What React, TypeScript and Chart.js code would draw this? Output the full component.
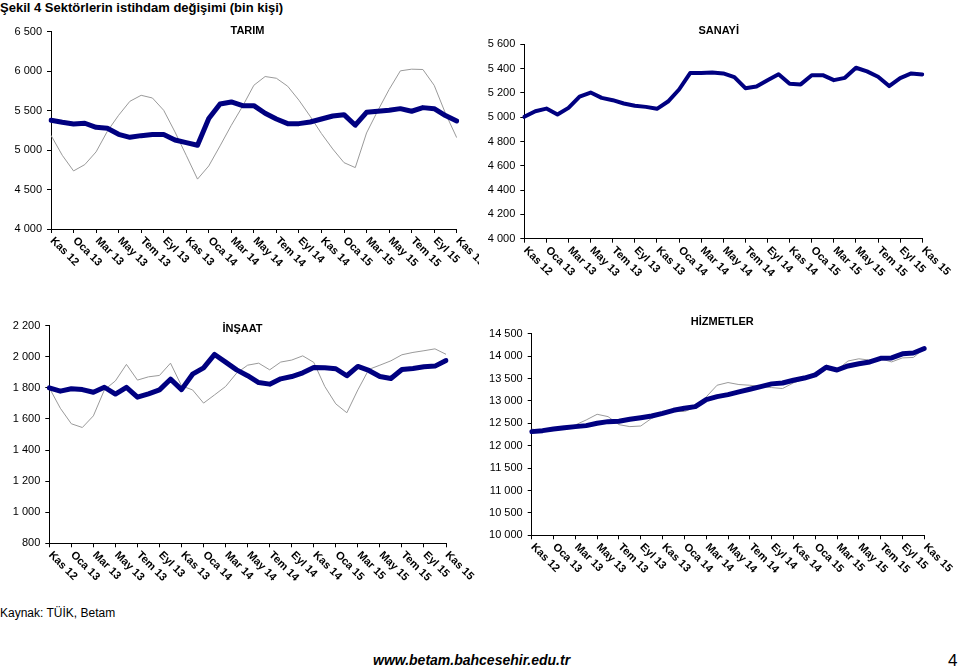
import React, { useEffect, useRef } from 'react';
import { Chart, registerables } from 'chart.js';

Chart.register(...registerables);

const months = ['Kas 12', 'Ara 12', 'Oca 13', 'Şub 13', 'Mar 13', 'Nis 13', 'May 13', 'Haz 13', 'Tem 13', 'Ağu 13', 'Eyl 13', 'Eki 13', 'Kas 13', 'Ara 13', 'Oca 14', 'Şub 14', 'Mar 14', 'Nis 14', 'May 14', 'Haz 14', 'Tem 14', 'Ağu 14', 'Eyl 14', 'Eki 14', 'Kas 14', 'Ara 14', 'Oca 15', 'Şub 15', 'Mar 15', 'Nis 15', 'May 15', 'Haz 15', 'Tem 15', 'Ağu 15', 'Eyl 15', 'Eki 15', 'Kas 15'];

const tarimSA = [5378, 5352, 5331, 5340, 5289, 5276, 5200, 5162, 5183, 5196, 5196, 5128, 5095, 5061, 5399, 5584, 5610, 5563, 5563, 5466, 5394, 5335, 5335, 5356, 5394, 5432, 5449, 5315, 5479, 5492, 5504, 5525, 5492, 5538, 5525, 5437, 5369];
const tarimRaw = [5187, 4934, 4736, 4816, 4977, 5238, 5441, 5618, 5694, 5660, 5504, 5230, 4934, 4632, 4799, 5053, 5314, 5555, 5821, 5932, 5910, 5809, 5632, 5428, 5209, 5014, 4841, 4778, 5217, 5500, 5767, 6004, 6025, 6021, 5821, 5466, 5158];

const sanayiSA = [5003, 5049, 5071, 5022, 5077, 5170, 5203, 5159, 5140, 5113, 5094, 5085, 5069, 5129, 5228, 5363, 5363, 5368, 5360, 5330, 5239, 5253, 5305, 5354, 5275, 5270, 5346, 5346, 5305, 5324, 5407, 5377, 5333, 5256, 5322, 5360, 5352];

const insaatSA = [1800, 1779, 1794, 1789, 1772, 1804, 1760, 1803, 1740, 1762, 1787, 1856, 1789, 1888, 1929, 2015, 1966, 1916, 1878, 1834, 1824, 1858, 1873, 1897, 1931, 1929, 1923, 1878, 1938, 1912, 1873, 1860, 1918, 1925, 1936, 1940, 1976];
const insaatRaw = [1800, 1669, 1569, 1545, 1620, 1787, 1845, 1951, 1850, 1871, 1880, 1959, 1813, 1787, 1702, 1755, 1809, 1895, 1946, 1959, 1916, 1966, 1979, 2006, 1964, 1809, 1697, 1640, 1787, 1919, 1946, 1974, 2013, 2028, 2039, 2051, 2016];

const hizmetSA = [12314, 12336, 12373, 12403, 12426, 12448, 12500, 12537, 12545, 12590, 12626, 12664, 12723, 12790, 12835, 12872, 13030, 13095, 13140, 13200, 13260, 13320, 13380, 13400, 13460, 13510, 13580, 13750, 13690, 13780, 13830, 13870, 13950, 13960, 14050, 14070, 14170];
const hizmetRaw = [12373, 12330, 12351, 12366, 12463, 12575, 12701, 12649, 12470, 12426, 12440, 12612, 12723, 12776, 12761, 12858, 13089, 13350, 13410, 13365, 13350, 13320, 13298, 13276, 13402, 13484, 13580, 13800, 13690, 13890, 13940, 13910, 13940, 13870, 13960, 13970, 14170];

const NAVY = '#000080';
const GRAY = '#9a9a9a';
const FONT = 'Arial, "Liberation Sans", sans-serif';

const fmt = (v: number) => String(v).replace(/\B(?=(\d{3})+(?!\d))/g, ' ');

type Box = { left: number; top: number; width: number; height: number };
type Area = { left: number; top: number; right: number; bottom: number };

interface PanelProps {
  box: Box;
  area: Area;
  yMin: number;
  yMax: number;
  step: number;
  sa: number[];
  raw?: number[];
  saWidth: number;
}

const xLabelPlugin = {
  id: 'xLabels',
  afterDraw(chart: any) {
    const xs = chart.scales.x;
    const ctx = chart.ctx;
    const bottom = chart.chartArea.bottom;
    ctx.save();
    ctx.font = `bold 11px ${FONT}`;
    ctx.fillStyle = '#000';
    ctx.textAlign = 'left';
    ctx.textBaseline = 'middle';
    months.forEach((m, i) => {
      if (i % 2 !== 0) return;
      const x = xs.getPixelForValue(i);
      ctx.save();
      ctx.translate(x + 1, bottom + 10);
      ctx.rotate(Math.PI / 4);
      ctx.fillText(m, 0, 0);
      ctx.restore();
    });
    ctx.restore();
  },
};

function Panel({ box, area, yMin, yMax, step, sa, raw, saWidth }: PanelProps) {
  const ref = useRef<HTMLCanvasElement>(null);
  useEffect(() => {
    if (!ref.current) return;
    const datasets: any[] = [
      {
        data: sa,
        borderColor: NAVY,
        borderWidth: saWidth,
        pointRadius: 0,
        tension: 0,
        borderJoinStyle: 'round',
        borderCapStyle: 'round',
        fill: false,
      },
    ];
    if (raw) {
      datasets.push({
        data: raw,
        borderColor: GRAY,
        borderWidth: 1,
        pointRadius: 0,
        tension: 0,
        fill: false,
      });
    }
    const chart = new Chart(ref.current, {
      type: 'line',
      data: { labels: months, datasets },
      options: {
        responsive: false,
        animation: false,
        devicePixelRatio: 1,
        layout: {
          padding: { left: 0, top: area.top, right: box.width - area.right, bottom: 0 },
        },
        plugins: { legend: { display: false }, tooltip: { enabled: false }, title: { display: false } },
        scales: {
          x: {
            type: 'category',
            offset: false,
            ticks: { display: false, autoSkip: false },
            grid: {
              drawOnChartArea: false,
              drawTicks: true,
              tickLength: 4,
              color: (c: any) => (c.index % 2 === 0 ? '#000' : 'rgba(0,0,0,0)'),
            },
            border: { display: true, color: '#000', width: 1 },
            afterFit: (s: any) => {
              s.height = box.height - area.bottom;
            },
          },
          y: {
            min: yMin,
            max: yMax,
            ticks: {
              stepSize: step,
              callback: (v: any) => fmt(Number(v)),
              font: { family: FONT, size: 11 },
              color: '#000',
              padding: 5,
            },
            grid: { drawOnChartArea: false, drawTicks: true, tickLength: 4, color: '#000' },
            border: { display: true, color: '#000', width: 1 },
            afterFit: (s: any) => {
              s.width = area.left;
            },
          },
        },
      },
      plugins: [xLabelPlugin],
    });
    return () => chart.destroy();
  }, []);
  return (
    <canvas
      ref={ref}
      width={box.width}
      height={box.height}
      style={{ position: 'absolute', left: box.left, top: box.top, width: box.width, height: box.height, display: 'block' }}
    />
  );
}

const titleStyle = (cx: number, cy: number): React.CSSProperties => ({
  position: 'absolute',
  left: cx - 60,
  width: 120,
  top: cy - 7,
  lineHeight: '14px',
  textAlign: 'center',
  font: `bold 11px ${FONT}`,
  color: '#000',
  whiteSpace: 'nowrap',
});

export default function App() {
  return (
    <div style={{ position: 'absolute', left: 0, top: 0, width: 959, height: 668, background: '#fff', overflow: 'hidden' }}>
      <div style={{ position: 'absolute', left: 0, top: 0, lineHeight: '14px', font: `bold 13px ${FONT}`, color: '#000', whiteSpace: 'nowrap' }}>
        Şekil 4 Sektörlerin istihdam değişimi (bin kişi)
      </div>
      <Panel
        box={{ left: 0, top: 20, width: 479, height: 280 }}
        area={{ left: 51, top: 11.7, right: 456.7, bottom: 209 }}
        yMin={4000}
        yMax={6500}
        step={500}
        sa={tarimSA}
        raw={tarimRaw}
        saWidth={5}
      />
      <Panel
        box={{ left: 480, top: 20, width: 479, height: 280 }}
        area={{ left: 44.3, top: 24.3, right: 442.3, bottom: 218.7 }}
        yMin={4000}
        yMax={5600}
        step={200}
        sa={sanayiSA}
        saWidth={4}
      />
      <Panel
        box={{ left: 0, top: 310, width: 479, height: 290 }}
        area={{ left: 49.3, top: 15.7, right: 446, bottom: 233.3 }}
        yMin={800}
        yMax={2200}
        step={200}
        sa={insaatSA}
        raw={insaatRaw}
        saWidth={5}
      />
      <Panel
        box={{ left: 480, top: 310, width: 479, height: 290 }}
        area={{ left: 51.7, top: 23.7, right: 444.3, bottom: 225.3 }}
        yMin={10000}
        yMax={14500}
        step={500}
        sa={hizmetSA}
        raw={hizmetRaw}
        saWidth={5}
      />
      <div style={titleStyle(247.5, 30.5)}>TARIM</div>
      <div style={titleStyle(718.7, 30.5)}>SANAYİ</div>
      <div style={titleStyle(242.5, 329)}>İNŞAAT</div>
      <div style={titleStyle(722.3, 322)}>HİZMETLER</div>
      <div style={{ position: 'absolute', left: 0, top: 606, lineHeight: '14px', font: `12px ${FONT}`, color: '#000', whiteSpace: 'nowrap' }}>
        Kaynak: TÜİK, Betam
      </div>
      <div style={{ position: 'absolute', left: 373, top: 652, lineHeight: '16px', font: `italic bold 14px ${FONT}`, color: '#000', whiteSpace: 'nowrap' }}>
        www.betam.bahcesehir.edu.tr
      </div>
      <div style={{ position: 'absolute', left: 948, top: 651, lineHeight: '18px', font: `17px ${FONT}`, color: '#000', whiteSpace: 'nowrap' }}>
        4
      </div>
    </div>
  );
}
